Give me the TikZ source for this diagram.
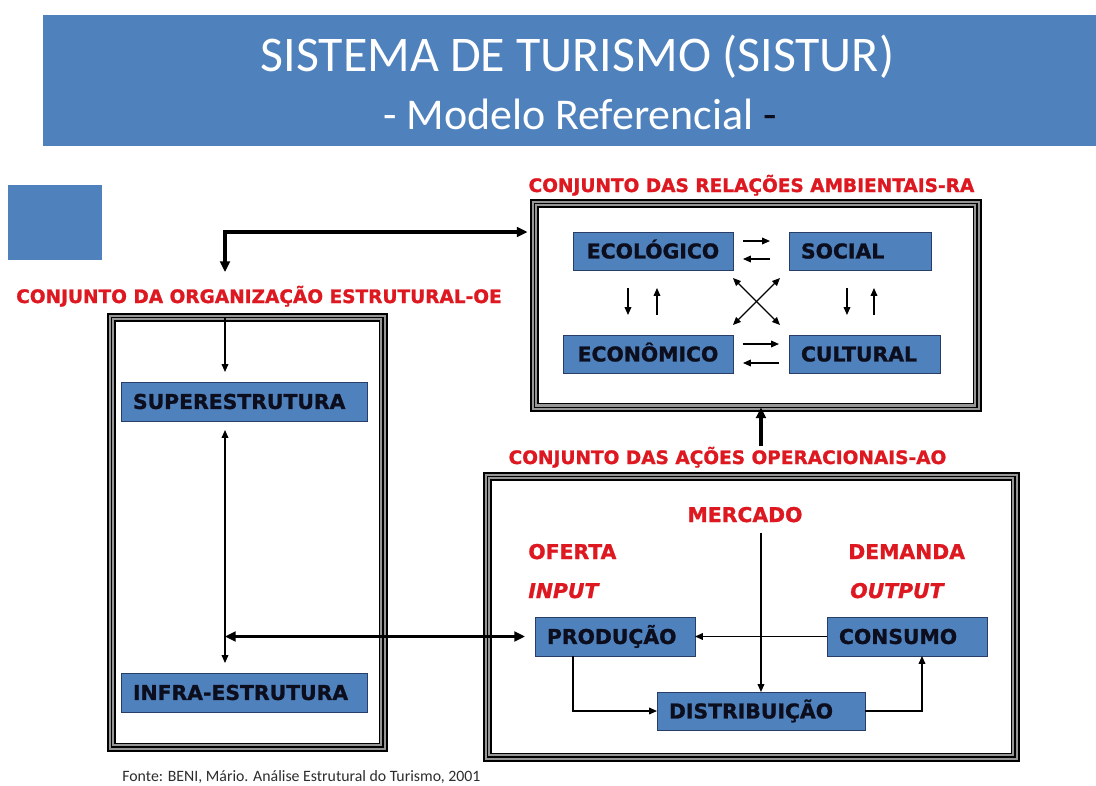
\documentclass[tikz,border=0pt]{standalone}
\usepackage{fontspec}
\usetikzlibrary{arrows.meta,calc}
\newfontfamily\dvs{DejaVu Sans}[BoldFeatures={FakeBold=1.2},BoldItalicFeatures={FakeBold=1.2}]
\newfontfamily\carl{Carlito}
\definecolor{bannerblue}{RGB}{79,129,189}
\definecolor{boxborder}{RGB}{40,62,105}
\definecolor{labred}{RGB}{222,24,32}
\definecolor{boxtext}{RGB}{12,14,30}
\definecolor{framegray}{RGB}{150,150,150}
\definecolor{fontegray}{RGB}{45,45,45}
\begin{document}
\begin{tikzpicture}[x=0.02cm,y=-0.02cm,
  >={Triangle[length=4.5pt,width=3.8pt]},
  frame/.style={draw=black,line width=5.1pt,anchor=north west,inner sep=0pt,outer sep=0pt,
    postaction={draw=framegray,line width=3.4pt},
    postaction={draw=black,line width=1.1pt}},
  bbox/.style={fill=bannerblue,draw=boxborder,line width=0.5pt,anchor=north west,
    inner ysep=0pt,inner xsep=0.24cm,outer sep=0pt,minimum height=0.76cm,
    text height=8.46pt,text depth=0pt,align=left,text=boxtext,
    font=\dvs\bfseries\fontsize{11.6}{13}\selectfont},
  redlab/.style={text=labred,inner sep=0pt,anchor=base,
    font=\dvs\bfseries\fontsize{10.55}{12}\selectfont},
  redbig/.style={text=labred,inner sep=0pt,anchor=base west,
    font=\dvs\bfseries\fontsize{11.6}{13}\selectfont},
  ln/.style={line width=0.75pt},
  tk/.style={line width=2pt,>={Triangle[length=6pt,width=5.5pt]}}
]
\useasboundingbox (0,0) rectangle (1096,785);
\fill[white] (0,0) rectangle (1096,785);

% banner and title
\node[fill=bannerblue,anchor=north west,inner sep=0pt,outer sep=0pt,
  minimum width=21.06cm,minimum height=2.62cm] (banner) at (43,15) {};
\node[anchor=base,inner sep=0pt,text=white,font=\carl\fontsize{28.4}{30}\selectfont]
  (title) at (577.5,71) {SISTEMA DE TURISMO (SISTUR)};
\node[anchor=base,inner sep=0pt,text=white,font=\carl\fontsize{25}{27}\selectfont]
  (subtitle) at (580,129) {- Modelo Referencial {\color{boxtext}-}};
\node[fill=bannerblue,anchor=north west,inner sep=0pt,outer sep=0pt,
  minimum width=1.88cm,minimum height=1.5cm] (square) at (8,185) {};

% frames
\node[frame,minimum width=8.86cm,minimum height=4.08cm] (ra) at (534.5,203.5) {};
\node[frame,minimum width=5.44cm,minimum height=8.6cm] (oe) at (111.5,317.5) {};
\node[frame,minimum width=10.56cm,minimum height=5.62cm] (ao) at (487.5,476.5) {};

% red labels
\node[redlab] (ralab) at (751.5,192) {CONJUNTO DAS RELAÇÕES AMBIENTAIS-RA};
\node[redlab] (oelab) at (259,303) {CONJUNTO DA ORGANIZAÇÃO ESTRUTURAL-OE};
\node[redlab] (aolab) at (727.5,464) {CONJUNTO DAS AÇÕES OPERACIONAIS-AO};
\node[redlab,font=\dvs\bfseries\fontsize{11.6}{13}\selectfont] (merc) at (745,522) {MERCADO};
\node[redbig] (oferta) at (528,559) {OFERTA};
\node[redbig] (demanda) at (848,559) {DEMANDA};
\node[redbig,font=\dvs\bfseries\itshape\fontsize{11.6}{13}\selectfont] (input) at (528,598) {INPUT};
\node[redbig,font=\dvs\bfseries\itshape\fontsize{11.6}{13}\selectfont] (output) at (850,598) {OUTPUT};

% blue boxes
\node[bbox,text width=2.72cm,align=center] (eco) at (573,232) {ECOLÓGICO};
\node[bbox,text width=2.36cm] (soc) at (789,232) {SOCIAL};
\node[bbox,text width=2.92cm,align=center] (econ) at (563,335) {ECONÔMICO};
\node[bbox,text width=2.54cm] (cul) at (789,335) {CULTURAL};
\node[bbox,text width=4.44cm,minimum height=0.78cm] (sup) at (121,382) {SUPERESTRUTURA};
\node[bbox,text width=4.44cm,minimum height=0.78cm] (inf) at (121,673) {INFRA-ESTRUTURA};
\node[bbox,text width=2.72cm,minimum height=0.78cm] (prod) at (535,617) {PRODUÇÃO};
\node[bbox,text width=2.72cm,minimum height=0.78cm] (cons) at (827,617) {CONSUMO};
\node[bbox,text width=3.68cm] (dist) at (657,692) {DISTRIBUIÇÃO};

% helper coordinates
\coordinate (oex) at (225,0);
\coordinate (bend) at (225,232);
\coordinate (oetip) at (225,272);

% RA internal arrows
\draw[ln,->] ($(eco.east)+(10,-10)$) -- ($(soc.west)+(-19,-10)$);
\draw[ln,->] ($(soc.west)+(-19,8)$) -- ($(eco.east)+(10,8)$);
\draw[ln,->] ($(econ.east)+(10,-10)$) -- ($(cul.west)+(-10,-10)$);
\draw[ln,->] ($(cul.west)+(-10,9)$) -- ($(econ.east)+(10,9)$);
\draw[ln,->] ($(eco.south)+(-25,18)$) -- ++(0,27);
\draw[ln,->] ($(eco.south)+(4,45)$) -- ++(0,-27);
\draw[ln,->] ($(soc.south)+(-13,18)$) -- ++(0,27);
\draw[ln,->] ($(soc.south)+(14,45)$) -- ++(0,-27);
\draw[ln,<->] ($(eco.south east)+(0,8)$) -- ($(cul.north west)+(-9,-10)$);
\draw[ln,<->] ($(soc.south west)+(-9,8)$) -- ($(econ.north east)+(0,-10)$);

% OE arrows
\draw[ln,->] (oe.north -| oex) -- ($(sup.north -| oex)+(0,-10)$);
\draw[ln,<->] ($(sup.south -| oex)+(0,9)$) -- ($(inf.north -| oex)+(0,-10)$);

% thick connectors between sets
\draw[tk,<->] (oetip) |- ($(ra.west |- bend)+(-7,0)$);
\draw[tk,<->] (oex |- prod.west) -- ($(prod.west)+(-10,0)$);
\draw[tk,->] (dist.north |- aolab.north) -- (dist.north |- ra.south);

% AO arrows
\draw[ln,->] ($(dist.north |- merc.south)+(0,10)$) -- (dist.north);
\draw[ln,->] (cons.west) -- (prod.east);
\draw[ln,->] ($(prod.south west)+(38,0)$) |- (dist.west);
\draw[ln,->] (dist.east) -| ($(cons.south)+(15,0)$);

% source
\node[anchor=base west,inner sep=0pt,text=fontegray,font=\carl\fontsize{9}{10}\selectfont]
  (fonte) at (122,781) {Fonte: BENI, Mário. Análise Estrutural do Turismo, 2001};
\end{tikzpicture}
\end{document}
